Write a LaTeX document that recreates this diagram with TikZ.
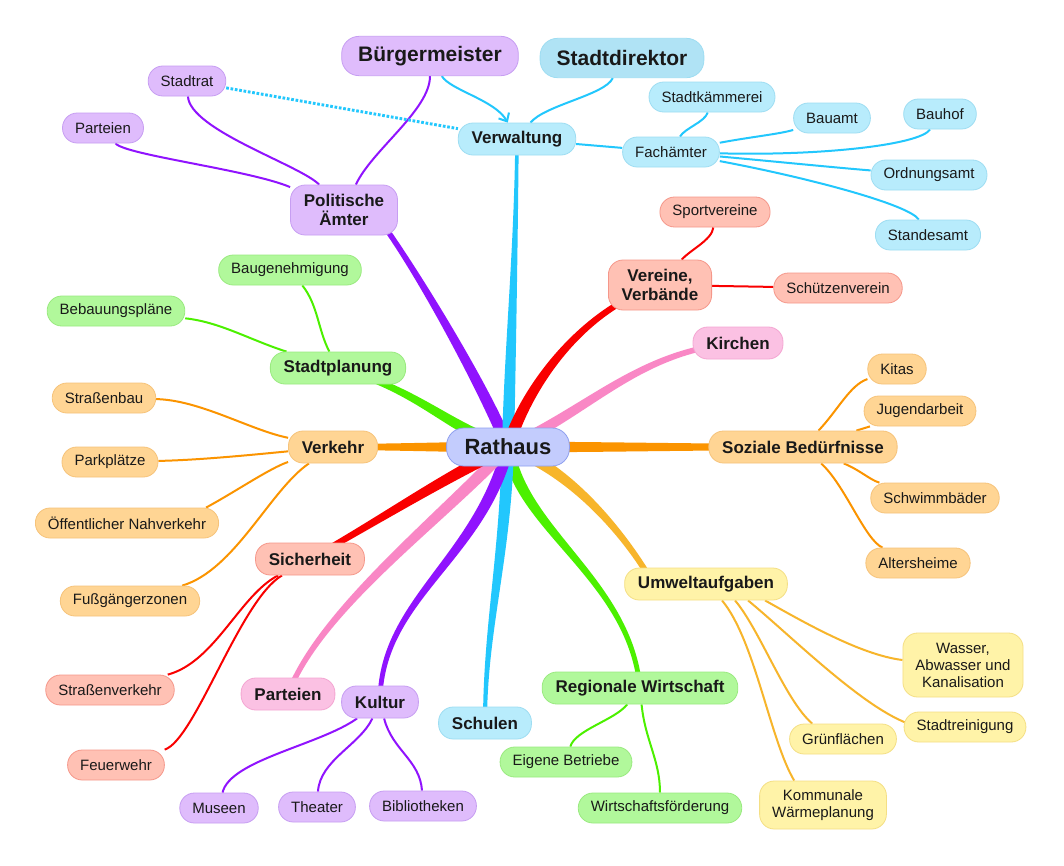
\documentclass[tikz,border=0pt]{standalone}
\usepackage{fontspec}
\setmainfont{Liberation Sans}
\usetikzlibrary{calc,backgrounds,arrows.meta}
\definecolor{puL}{HTML}{9013FE}\definecolor{puF}{HTML}{DFBCFC}\definecolor{puD}{HTML}{C79EF2}
\definecolor{blL}{HTML}{22C7FD}\definecolor{blF}{HTML}{B8ECFC}\definecolor{blD}{HTML}{9EDDF2}
\definecolor{bl2F}{HTML}{B0E3F5}
\definecolor{reL}{HTML}{F90000}\definecolor{reF}{HTML}{FFC1B4}\definecolor{reD}{HTML}{F5978A}
\definecolor{piL}{HTML}{F987C5}\definecolor{piF}{HTML}{FBC1E3}\definecolor{piD}{HTML}{F4A6D2}
\definecolor{orL}{HTML}{FB9400}\definecolor{orF}{HTML}{FFD594}\definecolor{orD}{HTML}{F6C37A}
\definecolor{yeL}{HTML}{F7B52B}\definecolor{yeF}{HTML}{FFF3A8}\definecolor{yeD}{HTML}{F4DF84}
\definecolor{grL}{HTML}{4CF000}\definecolor{grF}{HTML}{B1F89B}\definecolor{grD}{HTML}{9AEA80}
\definecolor{raF}{HTML}{C3CCFD}\definecolor{raD}{HTML}{8E9FEF}
% tapered branch: #1 colour, #2 start, #3 c1, #4 c2, #5 end, #6 half width start, #7 half width end
\newcommand\mybranch[7]{%
  \fill[#1] ($#2!#6!90:#3$) .. controls ($#3!#6!-90:#2$) and ($#4!#7!90:#5$) .. ($#5!#7!-90:#4$)
    -- ($#5!#7!90:#4$) .. controls ($#4!#7!-90:#5$) and ($#3!#6!90:#2$) .. ($#2!#6!-90:#3$) -- cycle;}
\begin{document}
\begin{tikzpicture}[x=0.75pt,y=-0.75pt,
  box/.style={rectangle, rounded corners=11pt, draw, line width=0.6pt, inner xsep=9.4pt, inner ysep=2pt,
    minimum height=22.5pt, align=center, text=black!90, font=\fontsize{11.25}{12.75}\selectfont},
  main/.style={box, inner xsep=10pt, minimum height=24pt, font=\bfseries\fontsize{12.75}{14.5}\selectfont},
  top/.style={box, rounded corners=13pt, inner xsep=12.4pt, minimum height=29.5pt, font=\bfseries\fontsize{15.75}{18}\selectfont},
  root/.style={box, rounded corners=13pt, inner xsep=13.5pt, minimum height=28.5pt, font=\bfseries\fontsize{16.5}{18}\selectfont},
  pu/.style={fill=puF, draw=puD}, bl/.style={fill=blF, draw=blD}, bltop/.style={fill=bl2F, draw=blD},
  re/.style={fill=reF, draw=reD}, pi/.style={fill=piF, draw=piD}, or/.style={fill=orF, draw=orD},
  ye/.style={fill=yeF, draw=yeD}, gr/.style={fill=grF, draw=grD}, ra/.style={fill=raF, draw=raD},
  sub/.style={line width=1.5pt},
  dots/.style={line width=2.2pt, dash pattern=on 2pt off 1.3pt}]
\useasboundingbox (0,0) rectangle (1064,865);

% nodes
\node[root,ra] (ra) at (508,447) {Rathaus};
\node[top,pu] (bm) at (430,56) {Bürgermeister};
\node[top,bltop] (sdir) at (622,58) {Stadtdirektor};
\node[box,pu] (srat) at (187,81) {Stadtrat};
\node[box,pu] (par1) at (103,128) {Parteien};
\node[main,pu,minimum height=37.5pt] (pol) at (344,210) {Politische\\Ämter};
\node[main,bl] (verw) at (517,139) {Verwaltung};
\node[box,bl] (fach) at (671,152) {Fachämter};
\node[box,bl] (stk) at (712,97) {Stadtkämmerei};
\node[box,bl] (bauamt) at (832,118) {Bauamt};
\node[box,bl] (bauhof) at (940,114) {Bauhof};
\node[box,bl] (ordn) at (929,175) {Ordnungsamt};
\node[box,bl] (stand) at (928,235) {Standesamt};
\node[box,re] (sport) at (715,212) {Sportvereine};
\node[main,re,minimum height=37.5pt] (ver) at (660,285) {Vereine,\\Verbände};
\node[box,re] (schuetz) at (838,288) {Schützenverein};
\node[main,pi] (kirch) at (738,343) {Kirchen};
\node[box,or] (kitas) at (897,369) {Kitas};
\node[box,or] (jugend) at (920,411) {Jugendarbeit};
\node[main,or] (soz) at (803,447) {Soziale Bedürfnisse};
\node[box,or] (schwimm) at (935,498) {Schwimmbäder};
\node[box,or] (alter) at (918,563) {Altersheime};
\node[main,ye] (umw) at (706,584) {Umweltaufgaben};
\node[box,ye,minimum height=48pt] (wasser) at (963,665) {Wasser,\\Abwasser und\\Kanalisation};
\node[box,ye] (srein) at (965,727) {Stadtreinigung};
\node[box,ye] (gruen) at (843,739) {Grünflächen};
\node[box,ye,minimum height=36pt] (komm) at (823,805) {Kommunale\\Wärmeplanung};
\node[main,gr] (regw) at (640,688) {Regionale Wirtschaft};
\node[box,gr] (eig) at (566,762) {Eigene Betriebe};
\node[box,gr] (wf) at (660,808) {Wirtschaftsförderung};
\node[main,bl] (schul) at (485,723) {Schulen};
\node[main,pu] (kult) at (380,702) {Kultur};
\node[box,pu] (mus) at (219,808) {Museen};
\node[box,pu] (theat) at (317,807) {Theater};
\node[box,pu] (bib) at (423,806) {Bibliotheken};
\node[main,pi] (par2) at (288,694) {Parteien};
\node[main,re] (sich) at (310,559) {Sicherheit};
\node[box,re] (sverk) at (110,690) {Straßenverkehr};
\node[box,re] (feuer) at (116,765) {Feuerwehr};
\node[box,or] (fuss) at (130,601) {Fußgängerzonen};
\node[box,or] (oepnv) at (127,523) {Öffentlicher Nahverkehr};
\node[box,or] (park) at (110,462) {Parkplätze};
\node[box,or] (sbau) at (104,398) {Straßenbau};
\node[main,or] (verk) at (333,447) {Verkehr};
\node[main,gr] (splan) at (338,368) {Stadtplanung};
\node[box,gr] (baugen) at (290,270) {Baugenehmigung};
\node[box,gr] (bebau) at (116,311) {Bebauungspläne};

\begin{scope}[on background layer]
\fill[white] (0,0) rectangle (1064,865);
% main tapered branches
\mybranch{puL}{(ra.center)}{(485,390)}{(425,285)}{($(pol.south east)+(-10,-4)$)}{4.5pt}{2pt}
\mybranch{blL}{(ra.center)}{(510,350)}{(516,250)}{(verw.center)}{4.5pt}{1.3pt}
\mybranch{reL}{(ra.center)}{(525,390)}{(580,310)}{(ver.center)}{4.5pt}{2.2pt}
\mybranch{piL}{(ra.center)}{(590,410)}{(640,350)}{(kirch.center)}{4pt}{2pt}
\mybranch{orL}{(ra.center)}{(600,447)}{(700,447)}{(soz.center)}{4pt}{2.3pt}
\mybranch{orL}{(ra.center)}{(450,447)}{(400,447)}{(verk.center)}{4pt}{2.3pt}
\mybranch{yeL}{(ra.center)}{(570,470)}{(620,530)}{($(umw.north)+(-60,4)$)}{4.5pt}{2.2pt}
\mybranch{grL}{(ra.center)}{(520,530)}{(630,580)}{(regw.center)}{4.5pt}{1.8pt}
\mybranch{blL}{(ra.center)}{(505,560)}{(485,630)}{(schul.center)}{4.5pt}{1.5pt}
\mybranch{puL}{(ra.center)}{(480,560)}{(380,600)}{(kult.center)}{4.5pt}{1.8pt}
\mybranch{piL}{(ra.center)}{(440,520)}{(320,610)}{(par2.center)}{4.5pt}{2pt}
\mybranch{reL}{(ra.center)}{(440,480)}{(380,520)}{(sich.center)}{4.5pt}{2.2pt}
\mybranch{grL}{(ra.center)}{(450,430)}{(420,390)}{(splan.center)}{4.5pt}{2.2pt}

% purple
\draw[sub,puL] (pol) .. controls (372,150) and (430,110) .. (bm);
\draw[sub,puL] (pol) .. controls (300,165) and (190,130) .. (srat);
\draw[sub,puL] (par1) .. controls (125,155) and (250,170) .. (pol);
% blue
\draw[sub,blL,-{Straight Barb[length=5pt,width=9pt]}] (bm) .. controls (450,90) and (495,100) .. (verw);
\draw[sub,blL] (sdir) .. controls (605,95) and (545,105) .. (verw);
\draw[blL,dots] (srat) -- (verw);
\draw[sub,blL] (verw) -- (fach);
\draw[sub,blL] (fach) .. controls (685,128) and (705,122) .. (stk);
\draw[sub,blL] (fach) .. controls (750,137) and (780,134) .. (bauamt);
\draw[sub,blL] (fach) .. controls (820,156) and (920,145) .. (bauhof);
\draw[sub,blL] (fach) .. controls (780,162) and (840,168) .. (ordn);
\draw[sub,blL] (fach) .. controls (810,178) and (910,205) .. (stand);
% red
\draw[sub,reL] (ver) .. controls (690,250) and (712,240) .. (sport);
\draw[sub,reL] (ver) -- (schuetz);
\draw[sub,reL] (sich) .. controls (240,595) and (215,662) .. (sverk);
\draw[sub,reL] (sich) .. controls (240,600) and (195,740) .. (feuer);
% orange
\draw[sub,orL] (soz) .. controls (838,410) and (850,385) .. (kitas);
\draw[sub,orL] (soz) -- (jugend);
\draw[sub,orL] (soz) .. controls (860,470) and (870,480) .. (schwimm);
\draw[sub,orL] (soz) .. controls (845,485) and (865,540) .. (alter);
\draw[sub,orL] (sbau) .. controls (200,400) and (250,430) .. (verk);
\draw[sub,orL] (park) .. controls (200,460) and (250,455) .. (verk);
\draw[sub,orL] ($(oepnv.north east)+(-13,0)$) .. controls (235,492) and (270,468) .. (verk);
\draw[sub,orL] (verk) .. controls (270,490) and (235,570) .. (fuss);
% green
\draw[sub,grL] (splan) .. controls (318,330) and (318,305) .. (baugen);
\draw[sub,grL] (bebau) .. controls (220,322) and (250,340) .. (splan);
\draw[sub,grL] (regw) .. controls (615,720) and (575,730) .. (eig);
\draw[sub,grL] (regw) .. controls (645,740) and (660,760) .. (wf);
% purple culture
\draw[sub,puL] (kult) .. controls (320,745) and (230,760) .. (mus);
\draw[sub,puL] (kult) .. controls (360,745) and (320,760) .. (theat);
\draw[sub,puL] (kult) .. controls (392,750) and (420,760) .. (bib);
% yellow
\draw[sub,yeL] ($(umw.south)+(59,0)$) .. controls (800,620) and (860,655) .. ($(wasser.west)+(0,-5)$);
\draw[sub,yeL] ($(umw.south)+(42,0)$) .. controls (790,635) and (860,705) .. ($(srein.west)+(3,-4)$);
\draw[sub,yeL] ($(umw.south)+(29,0)$) .. controls (760,630) and (785,700) .. ($(gruen.north west)+(23,0)$);
\draw[sub,yeL] ($(umw.south)+(16,0)$) .. controls (755,640) and (770,740) .. ($(komm.north west)+(35,0)$);
\end{scope}
\end{tikzpicture}
\end{document}
